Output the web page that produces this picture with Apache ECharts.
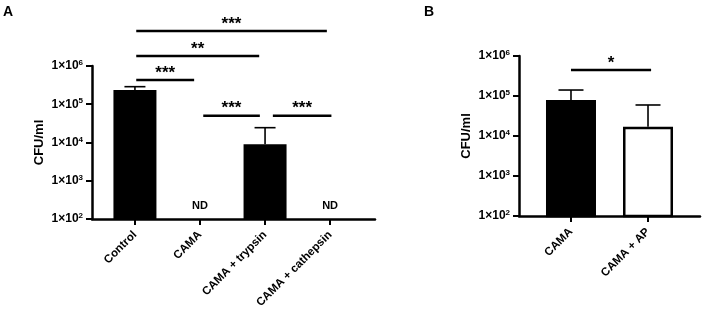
<!DOCTYPE html>
<html>
<head>
<meta charset="utf-8">
<script src="https://cdn.jsdelivr.net/npm/echarts@6.0.0/dist/echarts.min.js"></script>
<style>
  html, body { margin: 0; padding: 0; background: #fff; }
  #chart { width: 704px; height: 311px; }
</style>
</head>
<body>
<div id="chart"></div>
<script>
// panel A
const catsA = ['Control', 'CAMA', 'CAMA + trypsin', 'CAMA + cathepsin'];
const meanA = [236000, null, 9000, null];
const upperA = [288000, null, 24400, null];
const ndA = [1, 3]; // not detected
const sigFromA = [0.02, 0.02, 0.02, 1.05, 2.12];
const sigToA = [2.95, 1.91, 0.91, 1.92, 3.02];
const sigLevelA = [8.2e6, 1.83e6, 4.3e5, 5e4, 5e4];
const sigTextA = ['***', '**', '***', '***', '***'];

// panel B
const catsB = ['CAMA', 'CAMA + AP'];
const meanB = [79400, 17100];
const upperB = [141000, 59600];
const sigFromB = [0];
const sigToB = [1.04];
const sigLevelB = [4.47e5];
const sigTextB = ['*'];

const FONT = 'Liberation Sans, Arial, sans-serif';
const black = '#000';

var myChart = echarts.init(document.getElementById('chart'));

function xAxisFor(cats, grid, lo, hi) {
  const idx = cats.map((c, i) => i);
  return {
    type: 'value', gridIndex: grid, min: lo, max: hi,
    splitLine: {show: false},
    axisLine: {onZero: false, lineStyle: {color: black, width: 2.5}},
    axisTick: {customValues: idx, length: 6, lineStyle: {color: black, width: 2}},
    axisLabel: {
      customValues: idx, rotate: 45, margin: 14,
      color: black, fontFamily: FONT, fontWeight: 'bold', fontSize: 11.5,
      formatter: (v) => cats[Math.round(v)]
    }
  };
}

function yAxisFor(grid) {
  return {
    type: 'log', logBase: 10, gridIndex: grid, min: 100, max: 1e6,
    name: 'CFU/ml', nameLocation: 'middle', nameGap: 46,
    nameTextStyle: {color: black, fontFamily: FONT, fontWeight: 'bold', fontSize: 13},
    splitLine: {show: false},
    axisLine: {show: true, onZero: false, lineStyle: {color: black, width: 2.5}},
    axisTick: {length: 6, lineStyle: {color: black, width: 2}},
    axisLabel: {
      margin: 9, color: black, fontFamily: FONT, fontWeight: 'bold', fontSize: 12,
      formatter: (v) => '1×10{s|' + Math.round(Math.log10(v)) + '}',
      rich: {s: {fontFamily: FONT, fontWeight: 'bold', fontSize: 8, padding: [0, 0, 6, 0], color: black}}
    }
  };
}

function errRender(capW) {
  return function (params, api) {
    const p0 = api.coord([api.value(0), api.value(1)]);
    const p1 = api.coord([api.value(0), api.value(2)]);
    const st = {stroke: black, lineWidth: 1.6};
    return {type: 'group', children: [
      {type: 'line', shape: {x1: p0[0], y1: p0[1], x2: p1[0], y2: p1[1]}, style: st},
      {type: 'line', shape: {x1: p1[0] - capW / 2, y1: p1[1], x2: p1[0] + capW / 2, y2: p1[1]}, style: st}
    ]};
  };
}

function sigRender(params, api) {
  const a = api.coord([api.value(0), api.value(2)]);
  const b = api.coord([api.value(1), api.value(2)]);
  return {type: 'group', children: [
    {type: 'line', shape: {x1: a[0], y1: a[1], x2: b[0], y2: b[1]}, style: {stroke: black, lineWidth: 2.6}},
    {type: 'text', style: {
      text: api.value(3), x: (a[0] + b[0]) / 2, y: a[1] - 7,
      align: 'center', verticalAlign: 'middle',
      font: 'bold 17px ' + FONT, fill: black
    }}
  ]};
}

function ndRender(params, api) {
  const p = api.coord([api.value(0), 100]);
  return {type: 'text', style: {
    text: 'ND', x: p[0], y: p[1] - 13, align: 'center', verticalAlign: 'middle',
    font: 'bold 11px ' + FONT, fill: black
  }};
}

const barsA = meanA.map((v, i) => [i, v]).filter(d => d[1] != null);
const errsA = meanA.map((v, i) => [i, v, upperA[i]]).filter(d => d[1] != null);
const sigsA = sigFromA.map((v, i) => [v, sigToA[i], sigLevelA[i], sigTextA[i]]);
const barsB = meanB.map((v, i) => [i, v]);
const errsB = meanB.map((v, i) => [i, v, upperB[i]]);
const sigsB = sigFromB.map((v, i) => [v, sigToB[i], sigLevelB[i], sigTextB[i]]);

myChart.setOption({
  animation: false,
  textStyle: {fontFamily: FONT},
  graphic: [
    {type: 'text', left: 3, top: 5, style: {text: 'A', font: 'bold 14px ' + FONT, fill: black}},
    {type: 'text', left: 424, top: 5, style: {text: 'B', font: 'bold 14px ' + FONT, fill: black}}
  ],
  grid: [
    {left: 92, top: 66, width: 283, height: 153},
    {left: 519, top: 56, width: 181, height: 160}
  ],
  xAxis: [
    xAxisFor(catsA, 0, -0.66, 3.69),
    xAxisFor(catsB, 1, -0.675, 1.675)
  ],
  yAxis: [yAxisFor(0), yAxisFor(1)],
  series: [
    {type: 'bar', xAxisIndex: 0, yAxisIndex: 0, data: barsA, barWidth: 43, clip: true,
      itemStyle: {color: black}},
    {type: 'custom', xAxisIndex: 0, yAxisIndex: 0, data: errsA, renderItem: errRender(21),
      encode: {x: 0, y: [1, 2]}},
    {type: 'custom', xAxisIndex: 0, yAxisIndex: 0, data: sigsA, renderItem: sigRender,
      encode: {x: [0, 1], y: 2}, clip: false},
    {type: 'custom', xAxisIndex: 0, yAxisIndex: 0, data: ndA.map(i => [i]), renderItem: ndRender,
      encode: {x: 0}},
    {type: 'bar', xAxisIndex: 1, yAxisIndex: 1, data: barsB, barWidth: 50, clip: true,
      itemStyle: {
        color: (p) => p.dataIndex === 0 ? black : '#fff',
        borderColor: black, borderWidth: 2.5
      }},
    {type: 'custom', xAxisIndex: 1, yAxisIndex: 1, data: errsB, renderItem: errRender(25),
      encode: {x: 0, y: [1, 2]}},
    {type: 'custom', xAxisIndex: 1, yAxisIndex: 1, data: sigsB, renderItem: sigRender,
      encode: {x: [0, 1], y: 2}, clip: false}
  ]
});
</script>
</body>
</html>
